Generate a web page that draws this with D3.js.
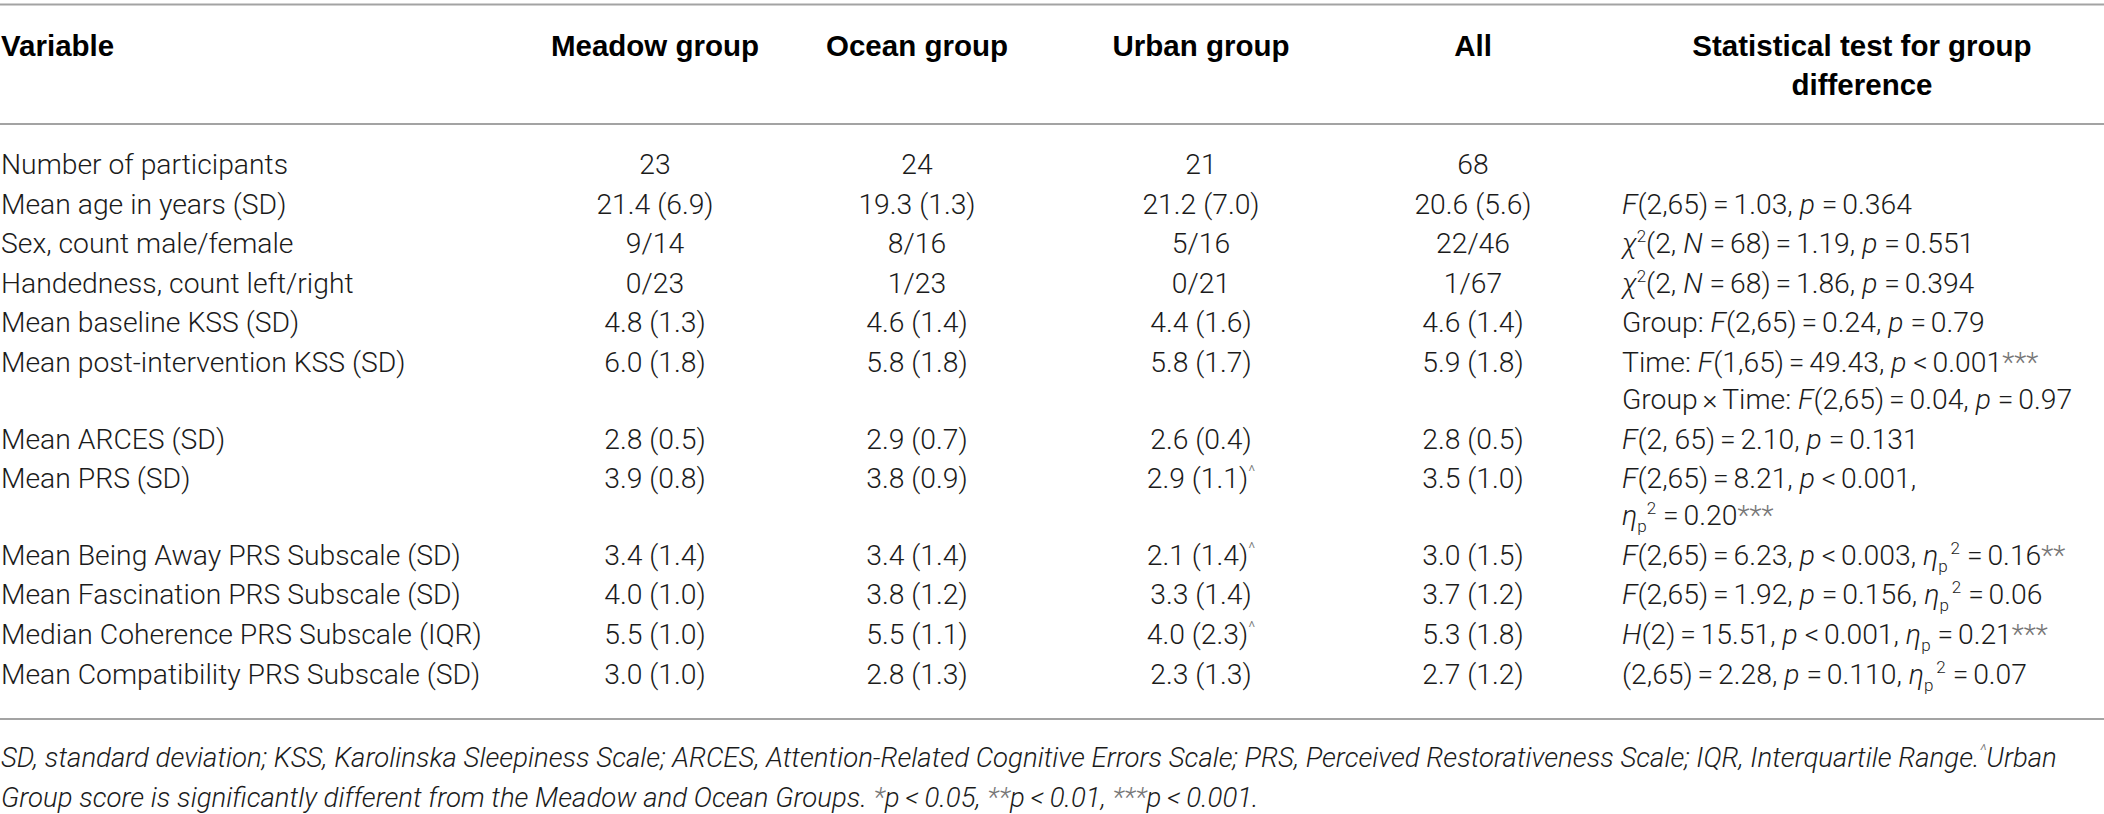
<!DOCTYPE html>
<html>
<head>
<meta charset="utf-8">
<script src="https://cdn.jsdelivr.net/npm/d3@7"></script>
<style>
  body { margin: 0; background: #fff; }
  text { font-family: Roboto, "Liberation Sans", Arial, sans-serif; font-weight: 300; font-size: 28.3px; fill: #1b1b1b; }
  text.head { font-family: "Liberation Sans", Arial, sans-serif; font-weight: 700; font-size: 29.5px; fill: #000; }
  text.note { font-style: italic; font-size: 27.6px; }
  tspan.ast { fill: #777; }
</style>
</head>
<body>
<div id="table"></div>
<script>
// markup used in the cell strings: _x_ italic, {x} superscript, [x] subscript, *** grey stars
var headers = ['Variable', 'Meadow group', 'Ocean group', 'Urban group', 'All'];
var testHeader = ['Statistical test for group', 'difference'];

var variables = [
    'Number of participants',
    'Mean age in years (SD)',
    'Sex, count male/female',
    'Handedness, count left/right',
    'Mean baseline KSS (SD)',
    'Mean post-intervention KSS (SD)',
    'Mean ARCES (SD)',
    'Mean PRS (SD)',
    'Mean Being Away PRS Subscale (SD)',
    'Mean Fascination PRS Subscale (SD)',
    'Median Coherence PRS Subscale (IQR)',
    'Mean Compatibility PRS Subscale (SD)'
];
var meadow = ['23', '21.4 (6.9)', '9/14', '0/23', '4.8 (1.3)', '6.0 (1.8)', '2.8 (0.5)', '3.9 (0.8)', '3.4 (1.4)', '4.0 (1.0)', '5.5 (1.0)', '3.0 (1.0)'];
var ocean  = ['24', '19.3 (1.3)', '8/16', '1/23', '4.6 (1.4)', '5.8 (1.8)', '2.9 (0.7)', '3.8 (0.9)', '3.4 (1.4)', '3.8 (1.2)', '5.5 (1.1)', '2.8 (1.3)'];
var urban  = ['21', '21.2 (7.0)', '5/16', '0/21', '4.4 (1.6)', '5.8 (1.7)', '2.6 (0.4)', '2.9 (1.1){^}', '2.1 (1.4){^}', '3.3 (1.4)', '4.0 (2.3){^}', '2.3 (1.3)'];
var all    = ['68', '20.6 (5.6)', '22/46', '1/67', '4.6 (1.4)', '5.9 (1.8)', '2.8 (0.5)', '3.5 (1.0)', '3.0 (1.5)', '3.7 (1.2)', '5.3 (1.8)', '2.7 (1.2)'];

// \u2006 = narrow space round the relation signs
var tests = [
    [],
    ['_F_(2,65)\u2006=\u20061.03, _p_ =\u20060.364'],
    ['_\u03c7_{2}(2, _N_ =\u200668)\u2006=\u20061.19, _p_ =\u20060.551'],
    ['_\u03c7_{2}(2, _N_ =\u200668)\u2006=\u20061.86, _p_ =\u20060.394'],
    ['Group: _F_(2,65)\u2006=\u20060.24, _p_ =\u20060.79'],
    ['Time: _F_(1,65)\u2006=\u200649.43, _p_ <\u20060.001***',
     'Group\u2006\u00d7\u2006Time: _F_(2,65)\u2006=\u20060.04, _p_ =\u20060.97'],
    ['_F_(2, 65)\u2006=\u20062.10, _p_ =\u20060.131'],
    ['_F_(2,65)\u2006=\u20068.21, _p_ <\u20060.001,',
     '_\u03b7_[p]{2} =\u20060.20***'],
    ['_F_(2,65)\u2006=\u20066.23, _p_ <\u20060.003, _\u03b7_[p]{\u20062} =\u20060.16**'],
    ['_F_(2,65)\u2006=\u20061.92, _p_ =\u20060.156, _\u03b7_[p]{\u20062} =\u20060.06'],
    ['_H_(2)\u2006=\u200615.51, _p_ <\u20060.001, _\u03b7_[p] =\u20060.21***'],
    ['(2,65)\u2006=\u20062.28, _p_ =\u20060.110, _\u03b7_[p]{\u20062} =\u20060.07']
];

var notes = [
    'SD, standard deviation; KSS, Karolinska Sleepiness Scale; ARCES, Attention-Related Cognitive Errors Scale; PRS, Perceived Restorativeness Scale; IQR, Interquartile Range.{^}Urban',
    'Group score is significantly different from the Meadow and Ocean Groups. *p\u2009<\u20090.05, **p\u2009<\u20090.01, ***p\u2009<\u20090.001.'
];

var width = 2104,
    height = 814,
    firstBaseline = 174,
    rowStep = 39.6,
    lineStep = 37;

var svg = d3.select('#table').append('svg')
    .attr('width', width)
    .attr('height', height);

// group column centres
var x = d3.scaleOrdinal()
    .domain(['meadow', 'ocean', 'urban', 'all'])
    .range([655, 917, 1201, 1473]);
var testX = 1622,
    testHeadX = 1862;

// baseline of every row: one step per row plus one line step per extra wrapped line
var extra = d3.cumsum(tests, function(t) { return Math.max(t.length, 1) - 1; });
var rowY = variables.map(function(d, i) {
    return firstBaseline + i * rowStep + (i > 0 ? extra[i - 1] : 0) * lineStep;
});

function writeRuns(sel, str) {
    var parts = str.split(/(_[^_]+_|\{[^}]+\}|\[[^\]]+\]|\*+)/).filter(function(s) { return s.length; }),
        shift = 0;
    parts.forEach(function(p) {
        var cls = null, txt = p, size = null, target = 0, italic = false;
        if (p[0] === '_') { txt = p.slice(1, -1); italic = true; }
        else if (p[0] === '{') { txt = p.slice(1, -1); size = '17px'; target = -11; }
        else if (p[0] === '[') { txt = p.slice(1, -1); size = '17px'; target = 7; }
        else if (p[0] === '*') { cls = 'ast'; }
        var t = sel.append('tspan').text(txt);
        if (italic) t.style('font-style', 'italic');
        if (size) t.style('font-size', size);
        if (cls) t.attr('class', cls);
        if (txt === '^') t.attr('class', 'ast');
        if (target !== shift) { t.attr('dy', target - shift); shift = target; }
    });
}

// rules
svg.selectAll('line.rule')
    .data([4.5, 124, 719])
    .enter().append('line')
    .attr('class', 'rule')
    .attr('x1', 0).attr('x2', width)
    .attr('y1', function(d) { return d; }).attr('y2', function(d) { return d; })
    .attr('stroke', '#a3a3a3')
    .attr('stroke-width', 2);

// header
svg.append('text').attr('class', 'head').attr('x', 1).attr('y', 56).text(headers[0]);
svg.selectAll('text.grouphead')
    .data(x.domain())
    .enter().append('text')
    .attr('class', 'head grouphead')
    .attr('x', function(d) { return x(d); })
    .attr('y', 56)
    .attr('text-anchor', 'middle')
    .text(function(d, i) { return headers[i + 1]; });
svg.selectAll('text.testhead')
    .data(testHeader)
    .enter().append('text')
    .attr('class', 'head testhead')
    .attr('x', testHeadX)
    .attr('y', function(d, i) { return 56 + i * 38.5; })
    .attr('text-anchor', 'middle')
    .text(function(d) { return d; });

// body
svg.selectAll('text.variable')
    .data(variables)
    .enter().append('text')
    .attr('class', 'variable')
    .attr('x', 1)
    .attr('y', function(d, i) { return rowY[i]; })
    .text(function(d) { return d; });

var groupValues = { meadow: meadow, ocean: ocean, urban: urban, all: all };
x.domain().forEach(function(key) {
    svg.selectAll('text.v-' + key)
        .data(groupValues[key])
        .enter().append('text')
        .attr('class', 'v-' + key)
        .attr('x', x(key))
        .attr('y', function(d, i) { return rowY[i]; })
        .attr('text-anchor', 'middle')
        .each(function(d) { writeRuns(d3.select(this), d); });
});

tests.forEach(function(lines, i) {
    lines.forEach(function(line, j) {
        var t = svg.append('text')
            .attr('class', 'test')
            .attr('x', testX)
            .attr('y', rowY[i] + j * lineStep);
        writeRuns(t, line);
    });
});

// footnote
svg.selectAll('text.note')
    .data(notes)
    .enter().append('text')
    .attr('class', 'note')
    .attr('x', 1)
    .attr('y', function(d, i) { return 767 + i * 40; })
    .each(function(d) { writeRuns(d3.select(this), d); });
</script>
</body>
</html>
